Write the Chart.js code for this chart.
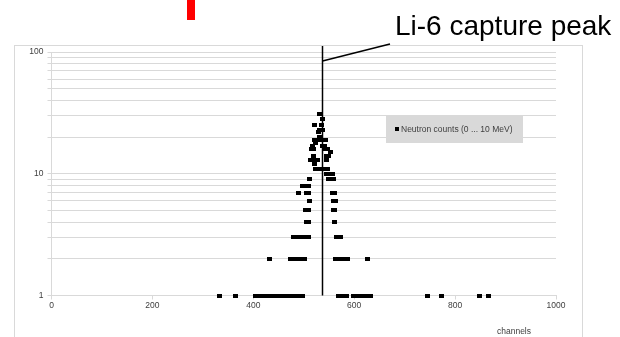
<!DOCTYPE html>
<html><head><meta charset="utf-8">
<script src="https://cdn.jsdelivr.net/npm/chart.js@4.4.1/dist/chart.umd.min.js"></script>
<style>html,body{margin:0;padding:0;background:#fff;overflow:hidden}#wrap{position:relative;width:620px;height:337px}</style>
</head><body><div id="wrap"><canvas id="c" width="620" height="337"></canvas></div>
<script>
// ---- data ----
const countLevels = [1, 2, 3, 4, 5, 6, 7, 8, 9, 10, 11, 12, 13, 14, 15, 16, 17, 18, 19, 20, 22, 23, 25, 28, 31];
const channelsByLevel = [
  [333, 365, 405, 409, 413, 417, 421, 425, 429, 433, 437, 441, 445, 449, 453, 457, 461, 465, 469, 473, 477, 481, 485, 489, 493, 497, 569, 573, 577, 581, 585, 599, 603, 607, 611, 615, 619, 623, 627, 632, 746, 773, 848, 866],
  [433, 474, 478, 482, 486, 490, 494, 498, 502, 562, 566, 570, 574, 578, 582, 587, 626],
  [480, 484, 488, 492, 496, 500, 504, 508, 510, 565, 569, 572],
  [505, 509, 560],
  [503, 507, 510, 559, 561],
  [511, 558, 562],
  [489, 505, 509, 556, 560],
  [497, 501, 505, 509],
  [512, 550, 554, 558],
  [546, 551, 556],
  [524, 530, 539, 548],
  [522],
  [513, 517, 521, 527, 546],
  [519, 545, 549],
  [553],
  [516, 520, 542, 547],
  [517, 537, 541],
  [523],
  [522, 527, 534, 544],
  [532],
  [529],
  [532, 537],
  [521, 535],
  [537],
  [531]
];
const xTickValues = [0, 200, 400, 600, 800, 1000];
const yTickValues = [1, 2, 3, 4, 5, 6, 7, 8, 9, 10, 20, 30, 40, 50, 60, 70, 80, 90, 100];
const yLabelValues = [1, 10, 100];
const peakChannel = 537;
const seriesLabel = 'Neutron counts (0 ... 10 MeV)';
const annotationText = 'Li-6 capture peak';
const xTitle = 'channels';

// ---- build points ----
const points = [];
countLevels.forEach((v, i) => channelsByLevel[i].forEach(ch => points.push({x: ch, y: v})));

const marker = document.createElement('canvas');
marker.width = 5; marker.height = 4;
{ const m = marker.getContext('2d'); m.fillStyle = '#000'; m.fillRect(0, 0, 5, 4); }

const GRID = '#d9d9d9';
const TXT = '#404040';
const FAM = '"Liberation Sans", Arial, sans-serif';
const smallFont = {family: FAM, size: 8.5, weight: 'normal'};

const extras = {
  id: 'extras',
  beforeDraw(chart) {
    const c = chart.ctx;
    c.save();
    c.strokeStyle = GRID; c.lineWidth = 1;
    c.strokeRect(14.5, 45.5, 568, 400);
    c.fillStyle = '#ff0000';
    c.fillRect(187, 0, 8, 20);
    c.restore();
  },
  afterDraw(chart) {
    const c = chart.ctx;
    const xs = chart.scales.x, ys = chart.scales.y;
    const px = Math.round(xs.getPixelForValue(peakChannel)) + 0.5;
    c.save();
    c.strokeStyle = '#000'; c.lineWidth = 1.5;
    c.beginPath(); c.moveTo(px, 46); c.lineTo(px, ys.bottom); c.stroke();
    c.beginPath(); c.moveTo(px, 61); c.lineTo(390, 44); c.stroke();
    c.fillStyle = '#000';
    c.font = '28px ' + FAM;
    c.textBaseline = 'alphabetic'; c.textAlign = 'left';
    c.fillText(annotationText, 395, 35);
    // legend box
    c.fillStyle = GRID;
    c.fillRect(386, 116, 137, 27);
    c.fillStyle = '#000';
    c.fillRect(395, 127, 4, 4);
    c.fillStyle = TXT;
    c.font = '8.5px ' + FAM;
    c.textBaseline = 'middle';
    c.fillText(seriesLabel, 401, 129.5);
    // x title
    c.textAlign = 'center';
    c.fillText(xTitle, 514, 331.5);
    c.restore();
  }
};

new Chart(document.getElementById('c'), {
  type: 'scatter',
  data: {
    datasets: [{
      label: seriesLabel,
      data: points,
      pointStyle: marker,
      pointRadius: 2.5,
      pointHoverRadius: 2.5,
      backgroundColor: '#000',
      borderColor: '#000',
      clip: false
    }]
  },
  options: {
    responsive: false,
    animation: false,
    devicePixelRatio: 1,
    events: [],
    layout: {padding: {left: 14, right: 64, top: 52, bottom: 21.5}},
    plugins: {legend: {display: false}, tooltip: {enabled: false}, title: {display: false}},
    scales: {
      x: {
        type: 'linear', min: 0, max: 1000,
        afterBuildTicks: s => { s.ticks = xTickValues.map(v => ({value: v})); },
        afterFit: s => { s.height = 20; },
        grid: {drawOnChartArea: false, drawTicks: true, tickLength: 4, color: GRID},
        border: {display: true, color: GRID, width: 1},
        ticks: {font: smallFont, color: TXT, padding: 1, autoSkip: false, maxRotation: 0,
          callback: v => String(v)}
      },
      y: {
        type: 'logarithmic', min: 1, max: 100,
        afterBuildTicks: s => { s.ticks = yTickValues.map(v => ({value: v})); },
        afterFit: s => { s.width = 37.5; },
        grid: {color: GRID, drawTicks: true, tickLength: 4},
        border: {display: true, color: GRID, width: 1},
        ticks: {
          font: smallFont, color: TXT, padding: 4, autoSkip: false,
          callback: v => yLabelValues.includes(v) ? String(v) : ''
        }
      }
    }
  },
  plugins: [extras]
});
</script>
</body></html>
